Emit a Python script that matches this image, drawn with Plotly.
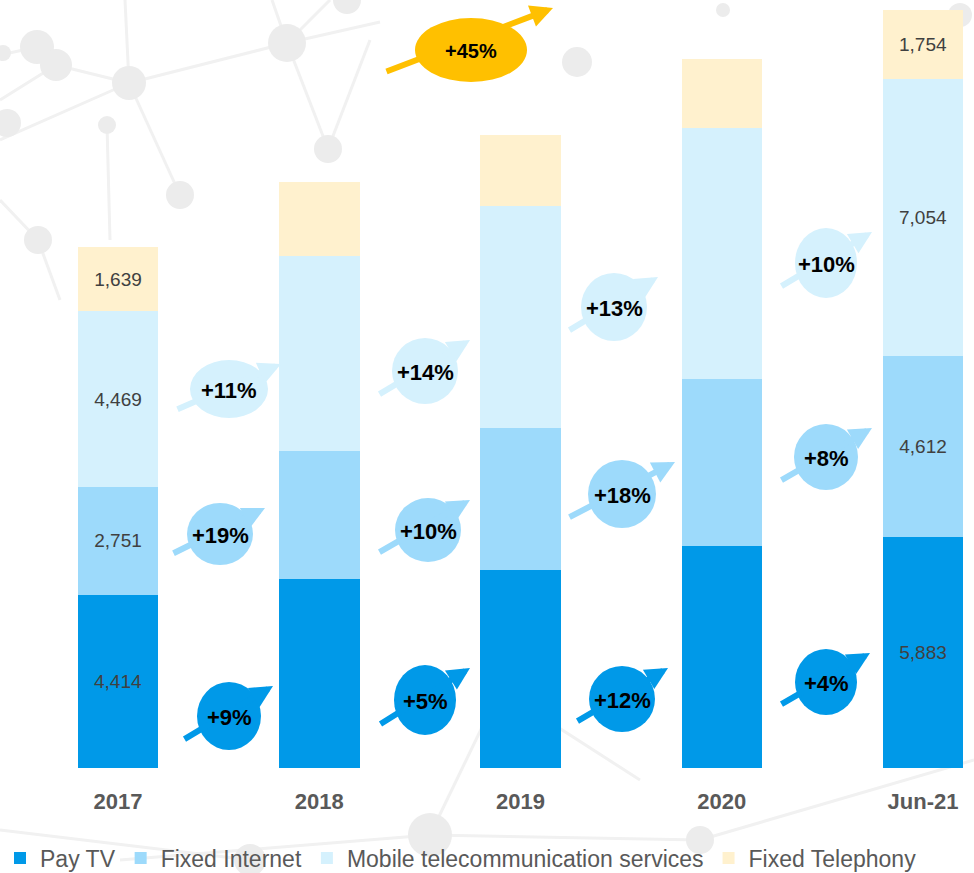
import plotly.graph_objects as go

# ---------------- data ----------------
categories = ["2017", "2018", "2019", "2020", "Jun-21"]
pay_tv = [4414, 4811, 5052, 5658, 5883]
fixed_internet = [2751, 3274, 3601, 4249, 4612]
mobile = [4469, 4961, 5656, 6391, 7054]
fixed_telephony = [1639, 1885, 1809, 1758, 1754]
labelled = [True, False, False, False, True]   # only first and last bars carry values
total_2017 = "13,273"

series_names = ["Pay TV", "Fixed Internet", "Mobile telecommunication services", "Fixed Telephony"]
series_values = [pay_tv, fixed_internet, mobile, fixed_telephony]
series_colors = ["#0099E8", "#9DDAFB", "#D5F1FD", "#FFF1CE"]

# growth bubbles: (text, colour index)
growth = [
    ("+9%", 0), ("+19%", 1), ("+11%", 2),
    ("+5%", 0), ("+10%", 1), ("+14%", 2),
    ("+12%", 0), ("+18%", 1), ("+13%", 2),
    ("+4%", 0), ("+8%", 1), ("+10%", 2),
]
total_growth = "+45%"

W, H = 974, 873
MB = 105
PH = H - MB

def px(x):
    return x / W

def py(y):
    return (PH - y) / PH

fig = go.Figure()
for name, vals, col in zip(series_names, series_values, series_colors):
    txt = [f"{v:,}" if lab else "" for v, lab in zip(vals, labelled)]
    fig.add_trace(go.Bar(
        name=name, x=categories, y=vals, marker=dict(color=col, line=dict(width=0)),
        width=0.4, text=txt, textposition="inside", insidetextanchor="middle",
        textangle=0, constraintext="none",
        insidetextfont=dict(family="Liberation Sans", size=19, color="#404040"),
        hoverinfo="skip",
    ))

shapes = []
annotations = []

# faint network watermark (decorative)
wm_node = "#ECECEC"
wm_line = "#F1F1F1"
nodes = [(37, 47, 17), (56, 65, 16), (129, 83, 17), (287, 43, 19), (328, 149, 14),
         (180, 195, 14), (38, 240, 14), (3, 53, 8), (347, 0, 14), (107, 125, 9),
         (7, 123, 14), (577, 62, 15), (723, 10, 7), (430, 835, 22), (960, 15, 12),
         (500, 690, 10), (250, 860, 16), (700, 840, 14)]
edges = [((129, 83), (0, 140)), ((129, 83), (287, 43)), ((129, 83), (180, 195)),
         ((129, 83), (56, 65)), ((129, 83), (125, 0)), ((287, 43), (328, 149)),
         ((287, 43), (380, 22)), ((328, 149), (370, 40)), ((287, 43), (272, 0)),
         ((38, 240), (0, 200)), ((38, 240), (60, 300)), ((0, 55), (37, 47)),
         ((56, 65), (0, 100)), ((107, 125), (110, 240)), ((287, 43), (330, 0)),
         ((120, 860), (430, 835)), ((430, 835), (500, 690)), ((430, 835), (700, 840)),
         ((500, 690), (640, 780)), ((0, 830), (250, 860)), ((700, 840), (974, 760))]
for (x0, y0), (x1, y1) in edges:
    shapes.append(dict(type="line", xref="paper", yref="paper", layer="below",
                       x0=px(x0), y0=py(y0), x1=px(x1), y1=py(y1),
                       line=dict(color=wm_line, width=3)))
for cx, cy, r in nodes:
    shapes.append(dict(type="circle", xref="paper", yref="paper", layer="below",
                       x0=px(cx - r), x1=px(cx + r), y0=py(cy + r), y1=py(cy - r),
                       fillcolor=wm_node, line=dict(width=0)))

# bubble geometry (pixels): centre, radii, arrow tail, arrow head
bubble_geom = [
    ((229, 716), (32, 34), (183, 740), (273, 686)),
    ((220, 534), (33, 31), (172, 554), (265, 508)),
    ((229, 389), (39, 29), (176, 410), (281, 364)),
    ((425, 700), (31, 35), (379, 725), (470, 668)),
    ((428, 530), (33, 32), (378, 553), (470, 500)),
    ((425, 371), (33, 33), (378, 395), (470, 340)),
    ((622, 699), (33, 33), (576, 722), (668, 668)),
    ((622, 494), (34, 34), (568, 518), (675, 462)),
    ((614, 307), (33, 34), (568, 331), (658, 277)),
    ((826, 682), (31, 33), (780, 705), (870, 653)),
    ((826, 457), (32, 33), (780, 481), (872, 428)),
    ((826, 263), (31, 35), (780, 287), (872, 232)),
]
bubble_colors = ["#0099E8", "#9DDAFB", "#D5F1FD"]

def add_bubble(text, col, c, r, tail, head, size=22):
    annotations.append(dict(
        x=px(head[0]), y=py(head[1]), xref="paper", yref="paper",
        ax=tail[0] - head[0], ay=tail[1] - head[1], axref="pixel", ayref="pixel",
        text="", showarrow=True, arrowhead=2, arrowsize=0.75, arrowwidth=6,
        arrowcolor=col, standoff=0, startstandoff=0))
    shapes.append(dict(type="circle", xref="paper", yref="paper", layer="above",
                       x0=px(c[0] - r[0]), x1=px(c[0] + r[0]),
                       y0=py(c[1] + r[1]), y1=py(c[1] - r[1]),
                       fillcolor=col, line=dict(width=0)))
    annotations.append(dict(
        x=px(c[0]), y=py(c[1] + 1), xref="paper", yref="paper", text=f"<b>{text}</b>",
        xanchor="center", yanchor="middle", showarrow=False,
        font=dict(family="Liberation Sans", size=size, color="#000000")))

for (text, ci), (c, r, tail, head) in zip(growth, bubble_geom):
    add_bubble(text, bubble_colors[ci], c, r, tail, head)

add_bubble(total_growth, "#FFC000", (471, 50), (56, 32), (385, 72), (553, 8), size=20)

annotations.append(dict(
    x=categories[0], y=py(167), xref="x", yref="paper",
    xanchor="center", yanchor="middle", text=f"<b>{total_2017}</b>", showarrow=False,
    font=dict(family="Liberation Sans", size=31, color="#0B4C9E")))

fig.update_layout(
    width=W, height=H,
    margin=dict(l=0, r=0, t=0, b=MB),
    paper_bgcolor="white", plot_bgcolor="rgba(0,0,0,0)",
    barmode="stack", bargap=0.6,
    shapes=shapes, annotations=annotations,
    showlegend=True,
    legend=dict(orientation="h", xref="container", yref="container",
                x=0.0, xanchor="left", y=(H - 858) / H, yanchor="middle",
                traceorder="normal", itemwidth=30,
                font=dict(family="Liberation Sans", size=23, color="#595959"),
                bgcolor="rgba(0,0,0,0)"),
    xaxis=dict(type="category", range=[-118 / 201.25, (W - 118) / 201.25],
               showgrid=False, showline=False, zeroline=False, ticks="",
               ticklabelstandoff=18,
               tickfont=dict(family="Liberation Sans", size=22, color="#595959")),
    yaxis=dict(range=[0, PH * 25.48], visible=False, showgrid=False, zeroline=False),
)
fig.update_xaxes(tickvals=categories, ticktext=[f"<b>{c}</b>" for c in categories])

fig.write_html("out.html", config={"displayModeBar": False},
               post_script="document.body.style.margin='0';document.body.style.overflow='hidden';")
